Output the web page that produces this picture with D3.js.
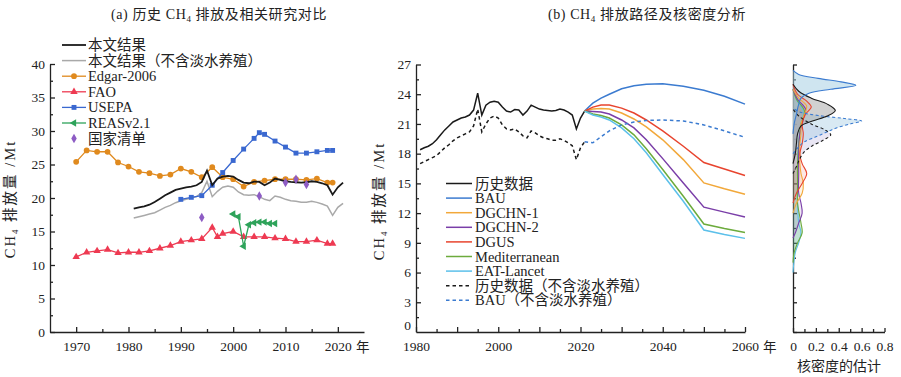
<!DOCTYPE html>
<html>
<head>
<meta charset="utf-8">
<script src="https://cdn.jsdelivr.net/npm/d3@7"></script>
<style>
body { margin: 0; background: #fff; }
svg text { font-family: "Liberation Serif", "Noto Sans CJK SC", serif; fill: #222; }
.axis path, .axis line { stroke: #222; stroke-width: 1.3; }
.axis text { font-size: 13.5px; }
.legend text { font-size: 14.5px; }
</style>
</head>
<body>
<div id="chart"></div>
<script>
// ---- Data: panel (a)
const histYears = d3.range(1981, 2022);
const histValues = [18.4, 18.6, 18.75, 19.0, 19.4, 19.9, 20.4, 20.8, 21.2, 21.4,
    21.6, 21.7, 21.9, 22.4, 24.1, 21.9, 22.9, 23.2, 23.3, 23.2,
    22.7, 22.3, 22.2, 22.45, 22.4, 21.9, 22.3, 22.9, 22.7, 22.5,
    22.4, 22.35, 22.3, 22.35, 22.5, 22.4, 22.2, 21.9, 20.5, 21.6, 22.3];
const histNoFwValues = [17.0, 17.2, 17.4, 17.6, 17.8, 18.2, 18.6, 18.9, 19.3, 19.6,
    19.8, 20.0, 20.2, 20.8, 22.5, 20.2, 21.0, 21.6, 21.8, 21.6,
    20.9, 20.5, 20.4, 20.5, 20.2, 19.8, 19.6, 20.3, 20.1, 19.8,
    19.6, 19.5, 19.35, 19.35, 19.5, 19.35, 19.1, 18.8, 17.4, 18.6, 19.2];

const edgarYears = [1970, 1972, 1974, 1976, 1978, 1980, 1982, 1984, 1986, 1988, 1990, 1992, 1994,
    1996, 1998, 2000, 2002, 2004, 2006, 2008, 2010, 2012, 2014, 2016, 2018, 2019];
const edgarValues = [25.4, 27.1, 26.9, 26.9, 25.3, 24.7, 23.9, 23.7, 23.3, 23.5, 24.4, 23.9, 23.1,
    24.6, 23.1, 22.8, 21.7, 22.4, 22.6, 22.8, 22.8, 22.8, 22.7, 22.9, 22.3, 22.3];

const faoYears = [1970, 1972, 1974, 1976, 1978, 1980, 1982, 1984, 1986, 1988, 1990, 1992, 1994,
    1996, 1997, 1998, 2000, 2002, 2004, 2006, 2008, 2010, 2012, 2014, 2016, 2018, 2019];
const faoValues = [11.2, 11.9, 12.1, 12.3, 11.8, 11.9, 11.9, 12.1, 12.5, 12.9, 13.5, 13.7, 13.9,
    15.6, 14.2, 14.7, 15.0, 14.2, 14.2, 14.2, 14.0, 13.9, 13.5, 13.5, 13.7, 13.2, 13.2];

const usepaYears = [1990, 1992, 1994, 1996, 1998, 2000, 2002, 2004, 2005, 2006, 2008, 2010, 2012,
    2014, 2016, 2018, 2019];
const usepaValues = [19.8, 20.1, 20.35, 21.9, 23.8, 25.6, 27.3, 28.9, 29.75, 29.5, 28.5, 27.6, 26.7,
    26.7, 26.9, 27.1, 27.1];

const reasYears = [2000, 2001, 2002, 2003, 2004, 2005, 2006, 2007, 2008];
const reasValues = [17.6, 17.2, 12.8, 16.0, 16.3, 16.4, 16.4, 16.2, 16.2];

const inventoryYears = [1994, 2005, 2010, 2012, 2014];
const inventoryValues = [17.1, 20.3, 22.3, 22.8, 22.0];

// ---- Data: panel (b) scenarios
const scenYears = [2021, 2023, 2025, 2027, 2030, 2033, 2036, 2040, 2045, 2050, 2055, 2060];
const bauValues = [22.3, 23.1, 23.6, 24.0, 24.55, 24.85, 25.0, 25.05, 24.8, 24.4, 23.8, 23.0];
const dgchn1Values = [22.3, 22.5, 22.55, 22.5, 22.1, 21.5, 20.7, 19.4, 17.4, 15.05, 14.45, 13.9];
const dgchn2Values = [22.3, 22.25, 22.2, 22.0, 21.4, 20.6, 19.4, 17.5, 15.05, 12.6, 12.1, 11.6];
const dgusValues = [22.3, 22.7, 22.9, 22.9, 22.6, 22.1, 21.4, 20.3, 18.75, 17.1, 16.45, 15.8];
const medValues = [22.3, 22.0, 21.85, 21.6, 20.9, 19.9, 18.5, 16.4, 13.7, 10.9, 10.45, 10.05];
const eatValues = [22.3, 21.9, 21.7, 21.4, 20.6, 19.5, 18.1, 15.9, 13.2, 10.3, 9.85, 9.45];
const bauNoFwValues = [19.2, 19.1, 19.7, 20.3, 20.9, 21.2, 21.35, 21.4, 21.3, 20.9, 20.3, 19.65];

// ---- Data: kernel density (level, density)
const kdeBAU = [[20, 0], [21, 0.01], [22, 0.03], [23, 0.05], [23.6, 0.07], [24.1, 0.14], [24.5, 0.33],
    [24.9, 0.55], [25.25, 0.42], [25.6, 0.22], [26, 0.05], [26.4, 0]];
const kdeHist = [[17, 0], [18, 0.02], [19, 0.03], [20, 0.04], [20.8, 0.07], [21.3, 0.17], [21.8, 0.3],
    [22.35, 0.37], [23, 0.3], [23.6, 0.16], [24.3, 0.05], [25, 0]];
const kdeBAUNoFw = [[18, 0], [18.7, 0.05], [19.2, 0.1], [19.7, 0.2], [20.2, 0.3], [20.6, 0.38],
    [21.0, 0.5], [21.3, 0.6], [21.55, 0.45], [21.85, 0.22], [22.2, 0.06], [22.6, 0]];
const kdeHistNoFw = [[16, 0], [16.7, 0.03], [17.5, 0.06], [18.2, 0.1], [18.8, 0.17], [19.4, 0.27],
    [19.9, 0.33], [20.4, 0.28], [21, 0.16], [21.8, 0.05], [22.5, 0]];
const kdeDGUS = [[13, 0], [14, 0.03], [15, 0.08], [16, 0.12], [17, 0.08], [18, 0.06], [19, 0.08],
    [20, 0.09], [21, 0.08], [22, 0.11], [22.7, 0.16], [23.3, 0.12], [24, 0.04], [25, 0]];
const kdeDGCHN1 = [[12, 0], [13, 0.03], [14, 0.08], [15, 0.09], [16, 0.07], [17, 0.06], [18, 0.06],
    [19, 0.06], [20, 0.07], [21, 0.07], [22, 0.1], [22.8, 0.12], [23.6, 0.05], [24.5, 0]];
const kdeDGCHN2 = [[9.5, 0], [10, 0.02], [11, 0.05], [12, 0.08], [13, 0.07], [14, 0.05], [16, 0.05],
    [18, 0.05], [20, 0.06], [21.5, 0.09], [22.5, 0.11], [23.5, 0.04], [24.5, 0]];
const kdeMed = [[7, 0], [8, 0.01], [9, 0.04], [10, 0.08], [11, 0.07], [13, 0.04], [15, 0.04],
    [17, 0.04], [19, 0.05], [21, 0.07], [22.3, 0.1], [23.5, 0.03], [24.5, 0]];
const kdeEAT = [[6, 0], [8, 0.02], [9, 0.05], [10, 0.07], [11, 0.05], [13, 0.04], [15, 0.04],
    [17, 0.04], [19, 0.05], [21, 0.07], [22.2, 0.09], [23.5, 0.03], [24.5, 0]];

// ---- Colours
const col = {
    hist: '#1a1a1a', histNoFw: '#a9a9a9', edgar: '#e08a1e', fao: '#ee3a52', usepa: '#3a68d0',
    reas: '#2ea35a', inventory: '#8d5cc4',
    bau: '#3b7bd0', dgchn1: '#f2a83a', dgchn2: '#7a3ea8', dgus: '#e8442e', med: '#6cab3c', eat: '#5cc0ea'
};

const svg = d3.select('#chart')
    .append('svg')
    .attr('width', 901)
    .attr('height', 377);

// ---- helpers
function addAxis(axis, tx, ty) {
    return svg.append('g')
        .classed('axis', true)
        .attr('transform', `translate(${tx}, ${ty})`)
        .call(axis);
}
function addMinor(axis, tx, ty) {
    const g = addAxis(axis.tickFormat(''), tx, ty);
    g.select('.domain').remove();
    return g;
}
function ch4Text(sel, before, after) {
    sel.append('tspan').text(before + 'CH');
    sel.append('tspan').style('font-size', '9px').attr('dy', 3).text('4');
    sel.append('tspan').attr('dy', -3).text(after);
}

// ---- Titles
svg.append('text').attr('x', 219).attr('y', 19).attr('text-anchor', 'middle')
    .style('font-size', '14px').style('letter-spacing', '0.6px')
    .call(t => ch4Text(t, '(a) 历史 ', ' 排放及相关研究对比'));
svg.append('text').attr('x', 647).attr('y', 19).attr('text-anchor', 'middle')
    .style('font-size', '14px').style('letter-spacing', '0.6px')
    .call(t => ch4Text(t, '(b) ', ' 排放路径及核密度分析'));

// Y labels
[[15, 199], [384, 201]].forEach(p => {
    svg.append('text')
        .attr('transform', `translate(${p[0]}, ${p[1]}) rotate(-90)`)
        .attr('text-anchor', 'middle')
        .style('font-size', '14.5px').style('letter-spacing', '2px')
        .call(t => ch4Text(t, '', ' 排放量 /Mt'));
});

// =========== Panel (a)
const xA = d3.scaleLinear().domain([1965, 2025]).range([50, 364]);
const yA = d3.scaleLinear().domain([0, 40]).range([332, 64]);

addAxis(d3.axisBottom(xA).tickValues(d3.range(1970, 2021, 10)).tickFormat(d3.format('d'))
    .tickSize(-5).tickSizeOuter(0).tickPadding(9), 0, 332);
addMinor(d3.axisBottom(xA).tickValues(d3.range(1975, 2021, 10)).tickSize(-3), 0, 332);
addAxis(d3.axisLeft(yA).tickValues(d3.range(0, 41, 5)).tickSize(-5).tickSizeOuter(0).tickPadding(5), 50, 0);
addMinor(d3.axisLeft(yA).tickValues(d3.range(2.5, 40, 5)).tickSize(-3), 50, 0);
svg.append('text').attr('x', 356).attr('y', 352).style('font-size', '13.5px').text('年');

const lineA = d3.line().x(d => xA(d[0])).y(d => yA(d[1]));
const gA = svg.append('g');

function seriesA(years, values, color, width, symbol, rot) {
    const data = d3.zip(years, values);
    if (width) {
        gA.append('path').datum(data).attr('d', lineA)
            .attr('fill', 'none').attr('stroke', color).attr('stroke-width', width);
    }
    if (symbol) {
        gA.selectAll(null).data(data).enter().append('path')
            .attr('d', d3.symbol(symbol.type, symbol.size))
            .attr('transform', d => `translate(${xA(d[0])}, ${yA(d[1])}) rotate(${rot || 0})`)
            .attr('fill', color);
    }
}
const symCircle = { type: d3.symbolCircle, size: 26 };
const symTri = { type: d3.symbolTriangle, size: 24 };
const symSquare = { type: d3.symbolSquare, size: 24 };
const symDiamond = { type: d3.symbolDiamond, size: 26 };

seriesA(histYears, histNoFwValues, col.histNoFw, 1.5);
seriesA(edgarYears, edgarValues, col.edgar, 1.3, symCircle);
seriesA(faoYears, faoValues, col.fao, 1.3, symTri);
seriesA(usepaYears, usepaValues, col.usepa, 1.3, symSquare);
seriesA(reasYears, reasValues, col.reas, 1.3, symTri, -90);
seriesA(histYears, histValues, col.hist, 1.8);
seriesA(inventoryYears, inventoryValues, col.inventory, 0, symDiamond);

// legend (a)
const legendA = [
    { label: '本文结果', color: col.hist, w: 1.8 },
    { label: '本文结果（不含淡水养殖）', color: col.histNoFw, w: 1.5 },
    { label: 'Edgar-2006', color: col.edgar, w: 1.3, sym: symCircle },
    { label: 'FAO', color: col.fao, w: 1.3, sym: symTri },
    { label: 'USEPA', color: col.usepa, w: 1.3, sym: symSquare },
    { label: 'REASv2.1', color: col.reas, w: 1.3, sym: symTri, rot: -90 },
    { label: '国家清单', color: col.inventory, w: 0, sym: symDiamond }
];
const lgA = svg.append('g').classed('legend', true);
legendA.forEach((d, i) => {
    const y = 45 + i * 15.6;
    if (d.w) {
        lgA.append('line').attr('x1', 62).attr('x2', 86).attr('y1', y).attr('y2', y)
            .attr('stroke', d.color).attr('stroke-width', d.w);
    }
    if (d.sym) {
        lgA.append('path').attr('d', d3.symbol(d.sym.type, d.sym.size))
            .attr('transform', `translate(74, ${y}) rotate(${d.rot || 0})`).attr('fill', d.color);
    }
    lgA.append('text').attr('x', 88).attr('y', y).attr('dy', '0.35em').text(d.label);
});

// =========== Panel (b)
const xB = d3.scaleLinear().domain([1980, 2060]).range([416, 745]);
const yB = d3.scaleLinear().domain([0, 27]).range([332, 64.5]);

addAxis(d3.axisBottom(xB).tickValues(d3.range(1980, 2061, 20)).tickFormat(d3.format('d'))
    .tickSize(-5).tickSizeOuter(0).tickPadding(9), 0, 332);
addMinor(d3.axisBottom(xB).tickValues(d3.range(1990, 2060, 20)).tickSize(-5), 0, 332);
addMinor(d3.axisBottom(xB).tickValues(d3.range(1985, 2060, 10)).tickSize(-3), 0, 332);
addAxis(d3.axisLeft(yB).tickValues(d3.range(3, 28, 3)).tickSize(-5).tickSizeOuter(0).tickPadding(5), 416, 0);
addMinor(d3.axisLeft(yB).tickValues(d3.range(1.5, 27, 3)).tickSize(-3), 416, 0);
// zero label sits a little higher so it clears the year labels
svg.append('text').attr('x', 411).attr('y', 330).attr('text-anchor', 'end')
    .style('font-size', '13.5px').text('0');
svg.append('text').attr('x', 763).attr('y', 352).style('font-size', '13.5px').text('年');

const lineB = d3.line().x(d => xB(d[0])).y(d => yB(d[1]));
const gB = svg.append('g');
const seriesB = [
    { label: '历史数据', years: histYears, values: histValues, color: col.hist, dash: null },
    { label: 'BAU', years: scenYears, values: bauValues, color: col.bau, dash: null },
    { label: 'DGCHN-1', years: scenYears, values: dgchn1Values, color: col.dgchn1, dash: null },
    { label: 'DGCHN-2', years: scenYears, values: dgchn2Values, color: col.dgchn2, dash: null },
    { label: 'DGUS', years: scenYears, values: dgusValues, color: col.dgus, dash: null },
    { label: 'Mediterranean', years: scenYears, values: medValues, color: col.med, dash: null },
    { label: 'EAT-Lancet', years: scenYears, values: eatValues, color: col.eat, dash: null },
    { label: '历史数据（不含淡水养殖）', years: histYears, values: histNoFwValues, color: col.hist, dash: '3.5,3' },
    { label: 'BAU（不含淡水养殖）', years: scenYears, values: bauNoFwValues, color: col.bau, dash: '3.5,3' }
];
seriesB.forEach(s => {
    gB.append('path').datum(d3.zip(s.years, s.values)).attr('d', lineB)
        .attr('fill', 'none').attr('stroke', s.color).attr('stroke-width', 1.5)
        .attr('stroke-dasharray', s.dash);
});

const lgB = svg.append('g').classed('legend', true);
seriesB.forEach((s, i) => {
    const y = 183.5 + i * 14.6;
    lgB.append('line').attr('x1', 446).attr('x2', 472).attr('y1', y).attr('y2', y)
        .attr('stroke', s.color).attr('stroke-width', 1.5).attr('stroke-dasharray', s.dash);
    lgB.append('text').attr('x', 475).attr('y', y).attr('dy', '0.35em').text(s.label);
});

// =========== Density panel
const xD = d3.scaleLinear().domain([0, 0.8]).range([793, 884.5]);
addAxis(d3.axisBottom(xD).tickValues([0, 0.2, 0.4, 0.6, 0.8]).tickFormat(d => d === 0 ? '0' : d3.format('.1f')(d))
    .tickSize(-4).tickSizeOuter(0).tickPadding(9), 0, 332);
addMinor(d3.axisBottom(xD).tickValues([0.1, 0.3, 0.5, 0.7]).tickSize(-3), 0, 332);
addAxis(d3.axisLeft(yB).tickValues(d3.range(0, 28, 3)).tickSize(-4).tickSizeOuter(0).tickFormat(''), 793, 0);
addMinor(d3.axisLeft(yB).tickValues(d3.range(1.5, 27, 3)).tickSize(-3), 793, 0);
svg.append('text').attr('x', 839).attr('y', 371).attr('text-anchor', 'middle')
    .style('font-size', '14px').text('核密度的估计');

const kdeSeries = [
    { data: kdeEAT, color: col.eat, fill: col.eat, op: 0.25 },
    { data: kdeMed, color: col.med, fill: col.med, op: 0.2 },
    { data: kdeDGCHN2, color: col.dgchn2, fill: col.dgchn2, op: 0.12 },
    { data: kdeDGCHN1, color: col.dgchn1, fill: col.dgchn1, op: 0.12 },
    { data: kdeDGUS, color: col.dgus, fill: col.dgus, op: 0.12 },
    { data: kdeHistNoFw, color: col.hist, fill: '#cfc7e6', op: 0.45, dash: '3,2.5' },
    { data: kdeBAUNoFw, color: col.bau, fill: '#a9cfe4', op: 0.45, dash: '3,2.5' },
    { data: kdeHist, color: col.hist, fill: '#9a9a9a', op: 0.45 },
    { data: kdeBAU, color: col.bau, fill: '#9fcbe2', op: 0.5 }
];
const areaD = d3.area().curve(d3.curveCatmullRom.alpha(0.5))
    .y(d => yB(d[0])).x0(xD(0)).x1(d => xD(d[1]));
const lineD = d3.line().curve(d3.curveCatmullRom.alpha(0.5))
    .y(d => yB(d[0])).x(d => xD(d[1]));
const gD = svg.append('g');
kdeSeries.forEach(s => {
    gD.append('path').datum(s.data).attr('d', areaD)
        .attr('fill', s.fill).attr('fill-opacity', s.op).attr('stroke', 'none');
});
kdeSeries.forEach(s => {
    gD.append('path').datum(s.data).attr('d', lineD)
        .attr('fill', 'none').attr('stroke', s.color).attr('stroke-width', 1.1)
        .attr('stroke-dasharray', s.dash || null);
});
</script>
</body>
</html>
